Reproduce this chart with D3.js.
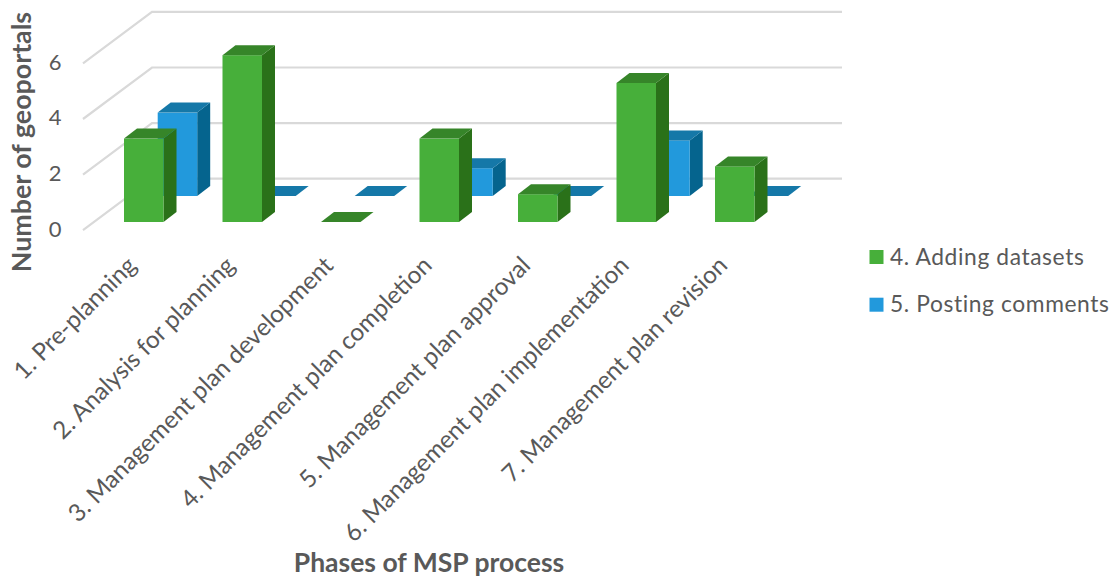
<!DOCTYPE html>
<html>
<head>
<meta charset="utf-8">
<script src="https://cdn.jsdelivr.net/npm/d3@7"></script>
<style>
html,body{margin:0;padding:0;background:#fff}
svg{display:block}
text{font-family:Lato,"Open Sans",sans-serif}
</style>
</head>
<body>
<svg id="c" width="1117" height="579"></svg>
<script>
const categories = ["1. Pre-planning","2. Analysis for planning","3. Management plan development","4. Management plan completion","5. Management plan approval","6. Management plan implementation","7. Management plan revision"];
const adding = [3,6,0,3,1,5,2];
const posting = [3,0,0,1,0,2,0];
const seriesNames = ["4. Adding datasets","5. Posting comments"];
const yTicks = [0,2,4,6];

const svg = d3.select("#c");
const y = d3.scaleLinear().domain([0,8]).range([222,-0.4]);
const x = d3.scaleBand().domain(categories).range([94.5,784]).paddingInner(0).paddingOuter(0);
const barW = 39.5, depthX = 13, depthY = 10;
const seriesDX = 33.7, seriesDY = -26;

// floor/wall grid
const g = svg.append("g");
yTicks.forEach(v=>{
  const wy = y(v)-43.3;
  g.append("path").attr("d",`M83,${wy+51.5}L152,${wy}L842,${wy}`)
    .attr("fill","none").attr("stroke","#d9d9d9").attr("stroke-width",2.2);
});

function drawSeries(vals, off, c){
  const s = svg.append("g");
  vals.forEach((v,i)=>{
    const x0 = x(categories[i]) + (x.bandwidth()-barW)/2 + off.dx;
    const base = y(0)+off.dy, top = y(v)+off.dy, x1 = x0+barW;
    s.append("path").attr("fill",c.side).attr("d",`M${x1},${base}L${x1+depthX},${base-depthY}L${x1+depthX},${top-depthY}L${x1},${top}Z`);
    s.append("rect").attr("x",x0).attr("y",top).attr("width",barW).attr("height",base-top).attr("fill",c.front);
    s.append("path").attr("fill",c.top).attr("d",`M${x0},${top}L${x0+depthX},${top-depthY}L${x1+depthX},${top-depthY}L${x1},${top}Z`);
  });
}
const blue = {front:"#2299dc",top:"#1578a8",side:"#05648e"};
const green = {front:"#47af3a",top:"#368529",side:"#2a7119"};
drawSeries(posting,{dx:seriesDX,dy:seriesDY},blue);
drawSeries(adding,{dx:0,dy:0},green);

// y axis
const ya = svg.append("g").attr("transform","translate(63,7)")
  .call(d3.axisLeft(y).tickValues(yTicks).tickSize(0).tickPadding(0));
ya.select(".domain").remove();
ya.selectAll("text").attr("fill","#595959").style("font-size","22px").attr("text-anchor","middle").attr("dx",-8);

// x axis
const xa = svg.append("g").attr("transform","translate(0,235)")
  .call(d3.axisBottom(x).tickSize(0).tickPadding(0));
xa.select(".domain").remove();
xa.selectAll("text").attr("fill","#595959").style("font-size","24.3px")
  .attr("text-anchor","end").attr("dy",0).attr("y",0).attr("x",0)
  .attr("transform","translate(-6,32) rotate(-45)");

// titles
svg.append("text").attr("transform","translate(31,142) rotate(-90)").attr("text-anchor","middle")
  .attr("fill","#595959").style("font-size","26.8px").style("font-weight","700").text("Number of geoportals");
svg.append("text").attr("x",429).attr("y",572).attr("text-anchor","middle")
  .attr("fill","#595959").style("font-size","26.5px").style("font-weight","700").text("Phases of MSP process");

// legend
const lg = svg.append("g");
seriesNames.forEach((n,i)=>{
  const ly = 250 + i*47.7;
  lg.append("rect").attr("x",869.5).attr("y",ly).attr("width",14).attr("height",14).attr("fill",i?blue.front:green.front);
  lg.append("text").attr("x",890).attr("y",ly+14.5).attr("fill","#595959").style("font-size","22.8px").style("letter-spacing","0.6px").text(n);
});
</script>
</body>
</html>
